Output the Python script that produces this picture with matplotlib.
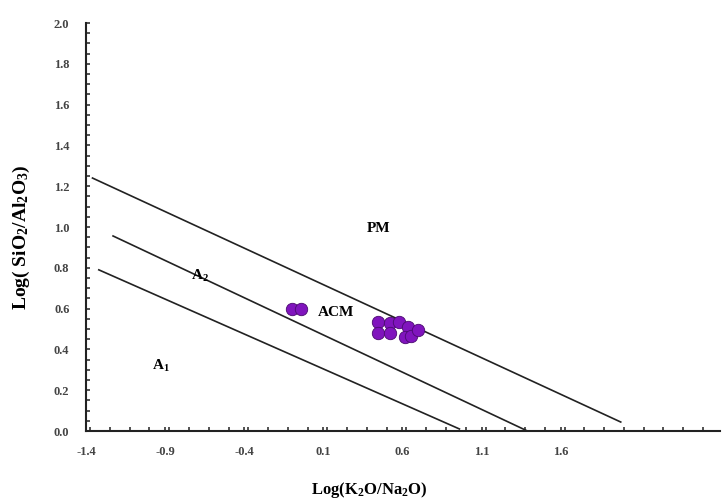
import numpy as np
import matplotlib
matplotlib.use("Agg")
import matplotlib.pyplot as plt
from matplotlib.ticker import MultipleLocator, FixedLocator, FormatStrFormatter

plt.rcParams['font.family'] = 'Liberation Serif'
plt.rcParams['mathtext.fontset'] = 'custom'
plt.rcParams['mathtext.rm'] = 'Liberation Serif:bold'
plt.rcParams['mathtext.it'] = 'Liberation Serif:bold'

# discrimination lines (start / end points)
line_x = [[-1.36, 1.98], [-1.23, 1.39], [-1.32, 0.96]]
line_y = [[1.24, 0.044], [0.956, 0.0], [0.79, 0.01]]

# field labels
field_names = ['PM', 'ACM', r'A$_2$', r'A$_1$']
field_x = [0.45, 0.18, -0.68, -0.93]
field_y = [0.995, 0.58, 0.76, 0.32]

# samples
sample_x = [-0.10, -0.04, 0.448, 0.524, 0.575, 0.638, 0.448, 0.518, 0.613, 0.657, 0.70]
sample_y = [0.60, 0.60, 0.534, 0.529, 0.534, 0.51, 0.48, 0.48, 0.46, 0.466, 0.495]

x_ticks = [-1.4, -0.9, -0.4, 0.1, 0.6, 1.1, 1.6]
y_ticks = np.arange(0, 2.01, 0.2)


def main():
    fig = plt.figure(figsize=(7.24, 5), dpi=100)
    ax = fig.add_axes([0.119, 0.138, 0.876, 0.816])

    for xs, ys in zip(line_x, line_y):
        ax.plot(xs, ys, color='#222222', lw=1.2)

    ax.scatter(sample_x, sample_y, s=80, color='#8014bd', edgecolor='#4a0a70',
               linewidth=0.6, zorder=3)

    for name, tx, ty in zip(field_names, field_x, field_y):
        ax.text(tx, ty, name, fontsize=11, fontweight='bold', ha='center', va='center')

    ax.set_xlim(-1.4, 2.61)
    ax.set_ylim(0, 2.0)
    ax.xaxis.set_major_locator(FixedLocator(x_ticks))
    ax.xaxis.set_minor_locator(MultipleLocator(0.125))
    ax.yaxis.set_major_locator(FixedLocator(y_ticks))
    ax.yaxis.set_minor_locator(MultipleLocator(0.05))
    ax.yaxis.set_major_formatter(FormatStrFormatter('%.1f'))
    ax.xaxis.set_major_formatter(FormatStrFormatter('%.1f'))
    ax.tick_params(which='both', direction='in', length=3, width=1.2, color='#333333',
                   labelsize=9, labelcolor='#444444')
    ax.tick_params(axis='x', pad=11)
    ax.tick_params(axis='y', pad=12)
    for lbl in ax.get_xticklabels() + ax.get_yticklabels():
        lbl.set_fontweight('bold')

    for side in ['top', 'right']:
        ax.spines[side].set_visible(False)
    for side in ['left', 'bottom']:
        ax.spines[side].set_linewidth(1.5)
        ax.spines[side].set_color('#222222')

    fig.text(0.03, 0.526, r'Log( SiO$_2$/Al$_2$O$_3$)', rotation=90, fontsize=14,
             fontweight='bold', ha='center', va='center')
    fig.text(0.51, 0.02, r'Log(K$_2$O/Na$_2$O)', fontsize=12, fontweight='bold',
             ha='center', va='center')

    fig.savefig('out.png', dpi=100)


if __name__ == "__main__":
    main()
